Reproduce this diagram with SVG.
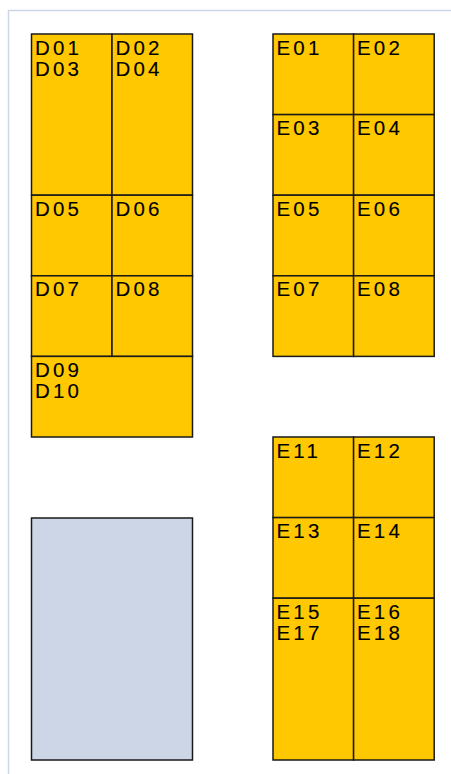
<svg xmlns="http://www.w3.org/2000/svg" width="451" height="774" viewBox="0 0 451 774">
<style>
.c{fill:#FFC800;stroke:#1a1a1a;stroke-width:1.5}
.g{fill:#CDD6E6;stroke:#1a1a1a;stroke-width:1.5}
.t{font-family:"Liberation Sans",Arial,sans-serif;font-size:20.5px;letter-spacing:3.2px;fill:#000;stroke:#000;stroke-width:0.12}
.f{fill:none;stroke:#CCD6E8;stroke-width:1.5}
</style>
<rect width="451" height="774" fill="#fff"/>
<path class="f" d="M8.5,774 V10.5 H451"/>
<g id="D01"><rect class="c" x="31.5" y="34" width="80.5" height="161.2"/><text class="t" x="35" y="54.5">D01</text><text class="t" x="35" y="76">D03</text></g>
<g id="D02"><rect class="c" x="112" y="34" width="80.5" height="161.2"/><text class="t" x="115.5" y="54.5">D02</text><text class="t" x="115.5" y="76">D04</text></g>
<g id="D05"><rect class="c" x="31.5" y="195.2" width="80.5" height="80.6"/><text class="t" x="35" y="215.7">D05</text></g>
<g id="D06"><rect class="c" x="112" y="195.2" width="80.5" height="80.6"/><text class="t" x="115.5" y="215.7">D06</text></g>
<g id="D07"><rect class="c" x="31.5" y="275.8" width="80.5" height="80.6"/><text class="t" x="35" y="296.3">D07</text></g>
<g id="D08"><rect class="c" x="112" y="275.8" width="80.5" height="80.6"/><text class="t" x="115.5" y="296.3">D08</text></g>
<g id="D09"><rect class="c" x="31.5" y="356.4" width="161" height="80.6"/><text class="t" x="35" y="376.9">D09</text><text class="t" x="35" y="398.4">D10</text></g>
<g id="grey"><rect class="g" x="31.5" y="518" width="161" height="242"/></g>
<g id="E01"><rect class="c" x="273" y="34" width="80.6" height="80.6"/><text class="t" x="276.5" y="54.5">E01</text></g>
<g id="E02"><rect class="c" x="353.6" y="34" width="80.6" height="80.6"/><text class="t" x="357" y="54.5">E02</text></g>
<g id="E03"><rect class="c" x="273" y="114.6" width="80.6" height="80.6"/><text class="t" x="276.5" y="135.1">E03</text></g>
<g id="E04"><rect class="c" x="353.6" y="114.6" width="80.6" height="80.6"/><text class="t" x="357" y="135.1">E04</text></g>
<g id="E05"><rect class="c" x="273" y="195.2" width="80.6" height="80.6"/><text class="t" x="276.5" y="215.7">E05</text></g>
<g id="E06"><rect class="c" x="353.6" y="195.2" width="80.6" height="80.6"/><text class="t" x="357" y="215.7">E06</text></g>
<g id="E07"><rect class="c" x="273" y="275.8" width="80.6" height="80.6"/><text class="t" x="276.5" y="296.3">E07</text></g>
<g id="E08"><rect class="c" x="353.6" y="275.8" width="80.6" height="80.6"/><text class="t" x="357" y="296.3">E08</text></g>
<g id="E11"><rect class="c" x="273" y="437" width="80.6" height="80.6"/><text class="t" x="276.5" y="457.5">E11</text></g>
<g id="E12"><rect class="c" x="353.6" y="437" width="80.6" height="80.6"/><text class="t" x="357" y="457.5">E12</text></g>
<g id="E13"><rect class="c" x="273" y="517.6" width="80.6" height="80.6"/><text class="t" x="276.5" y="538.1">E13</text></g>
<g id="E14"><rect class="c" x="353.6" y="517.6" width="80.6" height="80.6"/><text class="t" x="357" y="538.1">E14</text></g>
<g id="E15"><rect class="c" x="273" y="598.2" width="80.6" height="161.8"/><text class="t" x="276.5" y="618.7">E15</text><text class="t" x="276.5" y="640.2">E17</text></g>
<g id="E16"><rect class="c" x="353.6" y="598.2" width="80.6" height="161.8"/><text class="t" x="357" y="618.7">E16</text><text class="t" x="357" y="640.2">E18</text></g>
</svg>
